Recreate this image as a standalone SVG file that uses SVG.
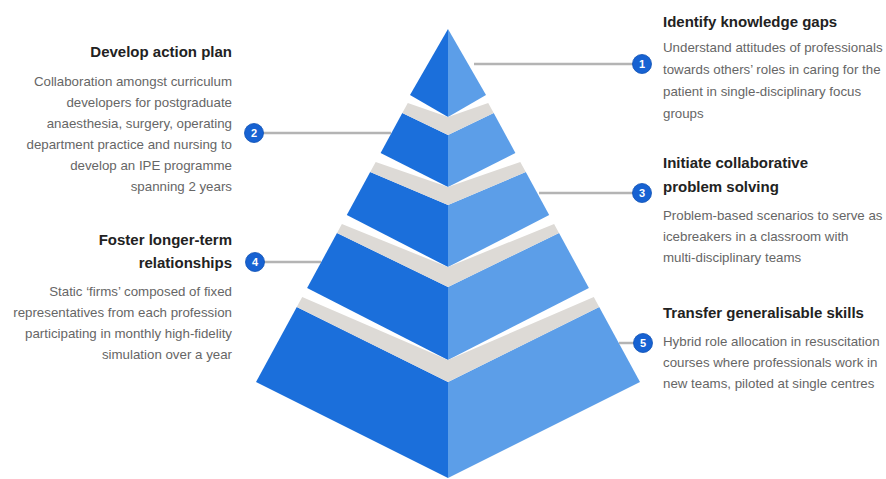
<svg xmlns="http://www.w3.org/2000/svg" width="886" height="479" viewBox="0 0 886 479">
  <style>
    .dark { fill: #1b6fdb; }
    .light { fill: #5c9ee8; }
    .band { fill: #dddad6; }
    .link { stroke: #b4b4b4; stroke-width: 2.5; fill: none; }
    .badge { fill: #1762d2; stroke: #0e50b4; stroke-width: 0.8; }
    .num { font-family: "Liberation Sans", Arial, sans-serif; font-size: 11px; font-weight: bold; fill: #ffffff; text-anchor: middle; }
    .title { font-family: "Liberation Sans", Arial, sans-serif; font-size: 15px; font-weight: bold; fill: #222222; }
    .body { font-family: "Liberation Sans", Arial, sans-serif; font-size: 13.3px; fill: #666666; }
    .l { text-anchor: end; }
  </style>
  <rect width="886" height="479" fill="#ffffff"/>

  <!-- pyramid tiers, left half dark, right half light -->
  <g id="tier1">
    <polygon class="dark" points="448,29 410,95 448,117"/>
    <polygon class="light" points="448,29 486,95 448,117"/>
  </g>
  <g id="tier2">
    <polygon class="dark" points="402.3,113 448,135 448,187 380.6,153"/>
    <polygon class="light" points="493.7,113 448,135 448,187 515.4,153"/>
  </g>
  <g id="tier3">
    <polygon class="dark" points="370.2,172 448,205 448,267 346.8,215"/>
    <polygon class="light" points="525.8,172 448,205 448,267 549.2,215"/>
  </g>
  <g id="tier4">
    <polygon class="dark" points="337,233 448,287 448,360 307.1,288"/>
    <polygon class="light" points="559,233 448,287 448,360 588.9,288"/>
  </g>
  <g id="tier5">
    <polygon class="dark" points="296.8,307 448,382 448,478 256,382"/>
    <polygon class="light" points="599.2,307 448,382 448,478 640,382"/>
  </g>

  <!-- grey separators between tiers -->
  <g id="bands">
    <polygon class="band" points="407.8,103 448,117 488.2,103 493.7,113 448,135 402.3,113"/>
    <polygon class="band" points="375.7,162 448,187 520.3,162 525.8,172 448,205 370.2,172"/>
    <polygon class="band" points="341.9,224 448,267 554.1,224 559,233 448,287 337,233"/>
    <polygon class="band" points="302.2,297 448,360 593.8,297 599.2,307 448,382 296.8,307"/>
  </g>

  <!-- leader lines -->
  <g id="connectors">
    <line class="link" x1="474" y1="64" x2="633" y2="64"/>
    <line class="link" x1="263" y1="133" x2="391" y2="133"/>
    <line class="link" x1="539" y1="193" x2="633" y2="193"/>
    <line class="link" x1="264" y1="262" x2="321" y2="262"/>
    <line class="link" x1="619" y1="343" x2="634" y2="343"/>
  </g>

  <!-- step 1 -->
  <g id="step1">
    <circle class="badge" cx="642" cy="64" r="9.5"/>
    <text class="num" x="642" y="68">1</text>
    <text class="title" x="663" y="27">Identify knowledge gaps</text>
    <text class="body" x="663" y="52">Understand attitudes of professionals</text>
    <text class="body" x="663" y="74">towards others’ roles in caring for the</text>
    <text class="body" x="663" y="96">patient in single-disciplinary focus</text>
    <text class="body" x="663" y="118">groups</text>
  </g>

  <!-- step 2 -->
  <g id="step2">
    <circle class="badge" cx="254" cy="133" r="9.5"/>
    <text class="num" x="254" y="137">2</text>
    <text class="title l" x="232" y="57">Develop action plan</text>
    <text class="body l" x="232" y="86">Collaboration amongst curriculum</text>
    <text class="body l" x="232" y="107">developers for postgraduate</text>
    <text class="body l" x="232" y="128">anaesthesia, surgery, operating</text>
    <text class="body l" x="232" y="149">department practice and nursing to</text>
    <text class="body l" x="232" y="170">develop an IPE programme</text>
    <text class="body l" x="232" y="191">spanning 2 years</text>
  </g>

  <!-- step 3 -->
  <g id="step3">
    <circle class="badge" cx="642" cy="193" r="9.5"/>
    <text class="num" x="642" y="197">3</text>
    <text class="title" x="663" y="168">Initiate collaborative</text>
    <text class="title" x="663" y="192">problem solving</text>
    <text class="body" x="663" y="220">Problem-based scenarios to serve as</text>
    <text class="body" x="663" y="241">icebreakers in a classroom with</text>
    <text class="body" x="663" y="262">multi-disciplinary teams</text>
  </g>

  <!-- step 4 -->
  <g id="step4">
    <circle class="badge" cx="255" cy="262" r="9.5"/>
    <text class="num" x="255" y="266">4</text>
    <text class="title l" x="232" y="245">Foster longer-term</text>
    <text class="title l" x="232" y="268">relationships</text>
    <text class="body l" x="232" y="296">Static ‘firms’ composed of fixed</text>
    <text class="body l" x="232" y="317">representatives from each profession</text>
    <text class="body l" x="232" y="338">participating in monthly high-fidelity</text>
    <text class="body l" x="232" y="359">simulation over a year</text>
  </g>

  <!-- step 5 -->
  <g id="step5">
    <circle class="badge" cx="643" cy="343" r="9.5"/>
    <text class="num" x="643" y="347">5</text>
    <text class="title" x="663" y="318">Transfer generalisable skills</text>
    <text class="body" x="663" y="346">Hybrid role allocation in resuscitation</text>
    <text class="body" x="663" y="367">courses where professionals work in</text>
    <text class="body" x="663" y="388">new teams, piloted at single centres</text>
  </g>
</svg>
